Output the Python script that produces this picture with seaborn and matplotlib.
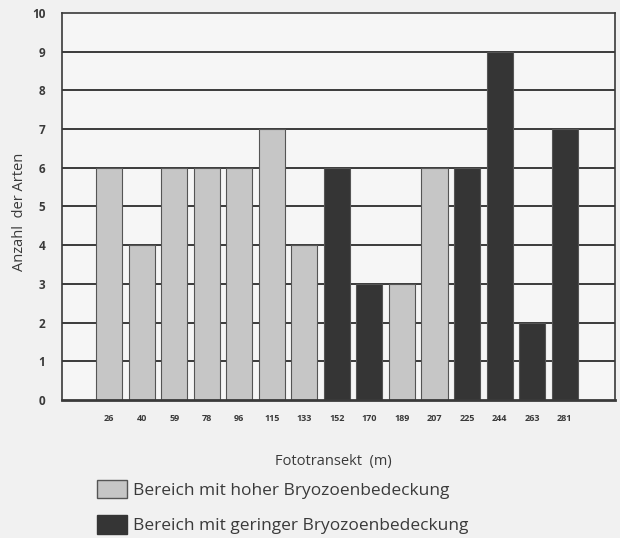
import matplotlib
matplotlib.use("Agg")
import matplotlib.pyplot as plt
import pandas as pd
import seaborn as sns
from matplotlib.patches import Patch

# Fototransekt positions (m), species counts and coverage class
transekt = ["26", "40", "59", "78", "96", "115", "133", "152",
            "170", "189", "207", "225", "244", "263", "281"]
arten = [6, 4, 6, 6, 6, 7, 4, 6, 3, 3, 6, 6, 9, 2, 7]
bedeckung = ["hoch", "hoch", "hoch", "hoch", "hoch", "hoch", "hoch", "gering",
             "gering", "hoch", "hoch", "gering", "gering", "gering", "gering"]
legend_labels = ["Bereich mit hoher Bryozoenbedeckung",
                 "Bereich mit geringer Bryozoenbedeckung"]

df = pd.DataFrame({"transekt": transekt, "arten": arten, "bedeckung": bedeckung})

sns.set_theme(style="white")
plt.rcParams["font.family"] = ["Open Sans", "DejaVu Sans"]

LIGHT = "#c6c6c6"
DARK = "#353535"
INK = "#3a3a3a"
palette = {"hoch": LIGHT, "gering": DARK}

fig = plt.figure(figsize=(6.2, 5.38), dpi=100, facecolor="#f1f1f1")
ax = fig.add_axes([0.1, 0.2565, 0.892, 0.7195])
ax.set_facecolor("#f6f6f6")

for y in range(1, 10):
    ax.axhline(y, color=INK, lw=1.4, zorder=0)

sns.barplot(data=df, x="transekt", y="arten", hue="bedeckung", palette=palette,
            order=transekt, dodge=False, width=0.8, legend=False, ax=ax,
            edgecolor="#555555", linewidth=0.8, zorder=2)

ax.set_xlim(-1.45, 15.55)
ax.set_ylim(0, 10)
ax.set_yticks(range(0, 11))
ax.tick_params(axis="y", length=0, pad=12, labelsize=8.5, labelcolor=INK)
ax.tick_params(axis="x", length=0, pad=10, labelsize=6.5, labelcolor=INK)
for lab in ax.get_xticklabels() + ax.get_yticklabels():
    lab.set_fontweight("bold")

for s in ax.spines.values():
    s.set_color(INK)
    s.set_linewidth(1.2)
ax.spines["bottom"].set_linewidth(2)

ax.set_xlabel("Fototransekt  (m)", fontsize=10.5, color=INK)
ax.xaxis.set_label_coords(0.49, -0.139)
ax.set_ylabel("Anzahl  der Arten", fontsize=10.5, color=INK)
ax.yaxis.set_label_coords(-0.063, 0.485)

handles = [Patch(facecolor=LIGHT, edgecolor="#555555", label=legend_labels[0]),
           Patch(facecolor=DARK, edgecolor=DARK, label=legend_labels[1])]
fig.legend(handles=handles, loc="upper left", bbox_to_anchor=(0.156, 0.108),
           frameon=False, fontsize=12.5, handlelength=1.72, handleheight=1.25,
           labelspacing=0.95, handletextpad=0.35, borderaxespad=0,
           borderpad=0, labelcolor=INK)

fig.savefig("out.png", dpi=100, facecolor=fig.get_facecolor())
